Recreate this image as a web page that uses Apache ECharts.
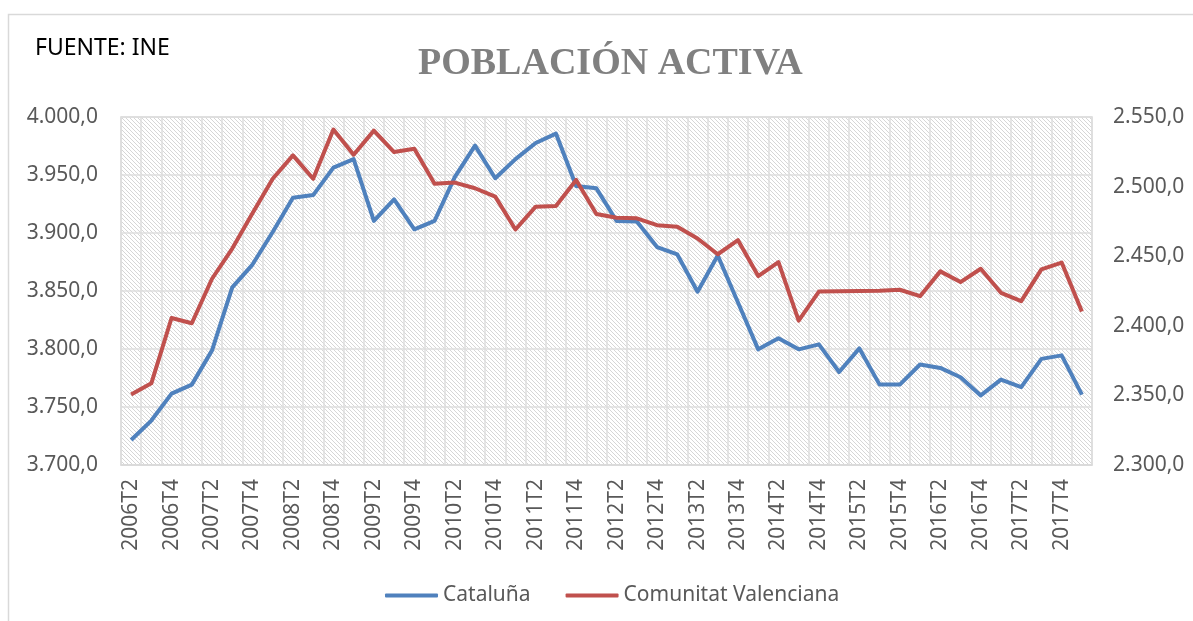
<!DOCTYPE html>
<html>
<head>
<meta charset="utf-8">
<script src="https://cdn.jsdelivr.net/npm/echarts@6/dist/echarts.min.js"></script>
<style>
html,body{margin:0;padding:0;background:#fff;}
#chart{width:1193px;height:621px;}
</style>
</head>
<body>
<div id="chart"></div>
<script>
var categories = ['2006T2','2006T3','2006T4','2007T1','2007T2','2007T3','2007T4','2008T1','2008T2','2008T3','2008T4','2009T1','2009T2','2009T3','2009T4','2010T1','2010T2','2010T3','2010T4','2011T1','2011T2','2011T3','2011T4','2012T1','2012T2','2012T3','2012T4','2013T1','2013T2','2013T3','2013T4','2014T1','2014T2','2014T3','2014T4','2015T1','2015T2','2015T3','2015T4','2016T1','2016T2','2016T3','2016T4','2017T1','2017T2','2017T3','2017T4','2018T1'];
var cataluna = [3721.5,3738.3,3761.5,3769.3,3798.8,3853.1,3872.8,3900.9,3930.4,3932.7,3956.4,3963.7,3910.4,3929.0,3903.2,3910.4,3948.1,3975.3,3947.2,3963.7,3977.6,3985.7,3940.5,3938.5,3910.4,3910.0,3887.9,3881.5,3849.4,3880.6,3840.1,3799.7,3809.2,3799.7,3804.0,3780.2,3800.5,3769.3,3769.3,3786.6,3783.7,3775.6,3760.0,3773.6,3767.2,3791.5,3794.5,3760.6];
var valenciana = [2350.7,2358.7,2405.6,2401.8,2433.8,2455.5,2480.8,2505.6,2522.4,2505.6,2541.0,2522.9,2540.2,2524.8,2527.2,2502.0,2502.9,2498.8,2492.8,2469.2,2485.6,2486.0,2504.8,2480.3,2477.6,2477.2,2472.3,2471.1,2462.7,2451.4,2461.5,2435.7,2445.8,2403.7,2424.6,2424.8,2425.0,2425.2,2425.9,2421.3,2439.1,2431.4,2441.0,2423.7,2417.7,2440.5,2445.4,2410.2];
var seriesNames = ['Cataluña','Comunitat Valenciana'];
var titleText = 'POBLACIÓN ACTIVA';
var sourceText = 'FUENTE: INE';

function fmt(v){
  var s = v.toFixed(1).split('.');
  var ip = s[0].replace(/\B(?=(\d{3})+(?!\d))/g,'.');
  return ip + ',' + s[1];
}

// hatch pattern
var tile = document.createElement('canvas');
tile.width = 4; tile.height = 4;
var tc = tile.getContext('2d');
tc.fillStyle = '#ffffff'; tc.fillRect(0,0,4,4);
tc.fillStyle = '#d6d6d6';
for (var i=0;i<4;i++){ tc.fillRect(i,i,1,1); }

var chart = echarts.init(document.getElementById('chart'), null, {renderer:'canvas'});
var FONT = '"Noto Sans", "Open Sans", sans-serif';
var option = {
  animation:false,
  graphic:[{
    type:'rect', shape:{x:8.5,y:14.5,width:1200,height:700},
    style:{fill:'none',stroke:'#d9d9d9',lineWidth:1.5}, silent:true, z:-10
  },{
    type:'text', left:35, top:37,
    style:{text:sourceText, fill:'#000', font:'23px "Noto Sans", sans-serif'}
  }],
  title:{
    text:titleText, left:413, top:40,
    textStyle:{fontFamily:'"Liberation Serif", serif', fontWeight:'bold', fontSize:38, color:'#808080'}
  },
  legend:{
    left:380, top:580,
    itemWidth:53, itemHeight:4, itemGap:35, icon:'roundRect',
    textStyle:{fontFamily:FONT, fontSize:21, color:'#595959', padding:[0,0,0,0]},
    data:seriesNames
  },
  grid:{
    left:121, right:101, top:117, bottom:156, show:true,
    backgroundColor:{image:tile, repeat:'repeat'},
    borderColor:'#d9d9d9', borderWidth:1.5
  },
  xAxis:{
    type:'category', data:categories, boundaryGap:true,
    axisLine:{show:true, lineStyle:{color:'#d9d9d9', width:1.5}},
    axisTick:{show:false},
    splitLine:{show:true, interval:0, lineStyle:{color:'#dedede', width:1.5}},
    axisLabel:{rotate:90, interval:1, margin:14, fontFamily:FONT, fontSize:21, color:'#595959'}
  },
  yAxis:[{
    type:'value', min:3700, max:4000, interval:50, position:'left',
    axisLine:{show:false}, axisTick:{show:false},
    splitLine:{show:true, lineStyle:{color:'#dedede', width:1.5}},
    axisLabel:{formatter:fmt, margin:23, fontFamily:FONT, fontSize:21, color:'#595959'}
  },{
    type:'value', min:2300, max:2550, interval:50, position:'right',
    axisLine:{show:false}, axisTick:{show:false},
    splitLine:{show:false},
    axisLabel:{formatter:fmt, margin:21, fontFamily:FONT, fontSize:21, color:'#595959'}
  }],
  series:[{
    name:seriesNames[0], type:'line', data:cataluna, yAxisIndex:0,
    symbol:'none', lineStyle:{color:'#4f81bd', width:4, join:'round'}, itemStyle:{color:'#4f81bd'}
  },{
    name:seriesNames[1], type:'line', data:valenciana, yAxisIndex:1,
    symbol:'none', lineStyle:{color:'#c0504d', width:4, join:'round'}, itemStyle:{color:'#c0504d'}
  }]
};
chart.setOption(option);
</script>
</body>
</html>
